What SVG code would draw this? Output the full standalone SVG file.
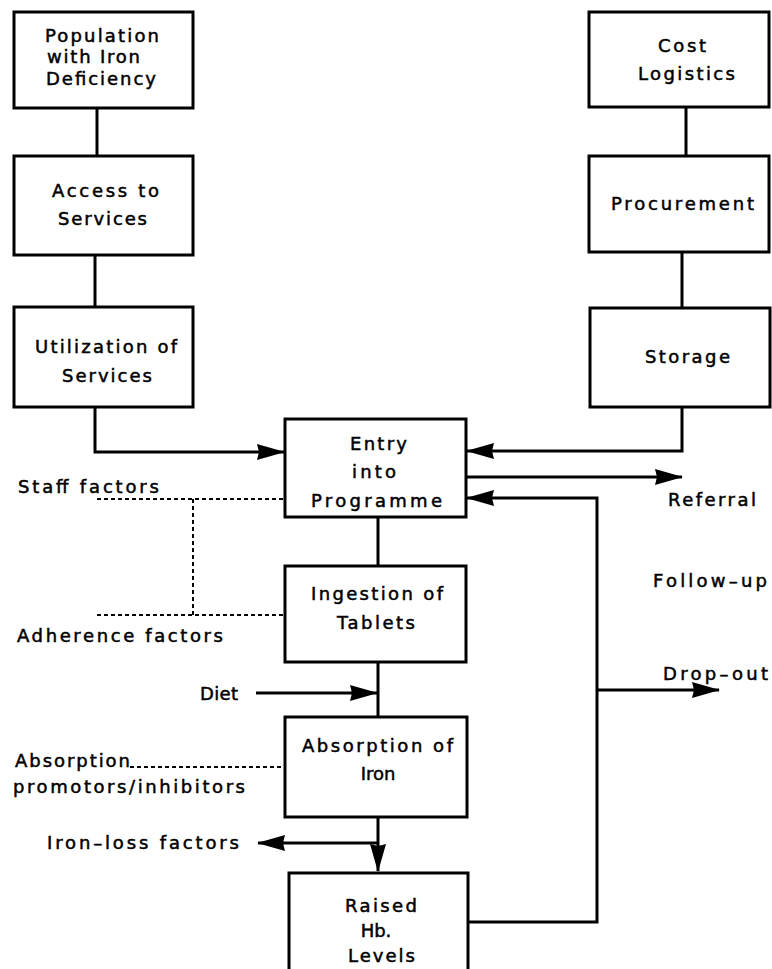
<svg xmlns="http://www.w3.org/2000/svg" width="772" height="969" viewBox="0 0 772 969">
<style>
  .box { fill: #ffffff; stroke: #000; stroke-width: 3; }
  .ln { fill: none; stroke: #000; stroke-width: 3; }
  .dot { fill: none; stroke: #000; stroke-width: 2; stroke-dasharray: 4 3; }
  text { font-family: "DejaVu Sans", "Liberation Sans", sans-serif; font-size: 18px; fill: #000; stroke: #000; stroke-width: 0.5; }
  .c { text-anchor: middle; }
</style>
<defs>
  <marker id="ah" markerUnits="userSpaceOnUse" viewBox="0 0 28 16" refX="27" refY="8" markerWidth="28" markerHeight="16" orient="auto">
    <path d="M0,0 L28,8 L0,16 L2,8 z" fill="#000"/>
  </marker>
</defs>
<rect width="772" height="969" fill="#fff"/>

<g id="connectors">
  <line class="ln" x1="97" y1="108" x2="97" y2="156"/>
  <line class="ln" x1="95" y1="255" x2="95" y2="307"/>
  <path class="ln" d="M95,407 V452 H284" marker-end="url(#ah)"/>
  <line class="ln" x1="686" y1="107" x2="686" y2="156"/>
  <line class="ln" x1="682" y1="252" x2="682" y2="308"/>
  <path class="ln" d="M682,407 V451 H467" marker-end="url(#ah)"/>
  <path class="ln" d="M466,477 H682" marker-end="url(#ah)"/>
  <path class="ln" d="M468,922 H597 V498 H467" marker-end="url(#ah)"/>
  <path class="ln" d="M597,690 H719" marker-end="url(#ah)"/>
  <line class="ln" x1="378" y1="517" x2="378" y2="566"/>
  <line class="ln" x1="378" y1="662" x2="378" y2="717"/>
  <path class="ln" d="M256,693 H377" marker-end="url(#ah)"/>
  <path class="ln" d="M378,817 V871" marker-end="url(#ah)"/>
  <path class="ln" d="M378,843 H258" marker-end="url(#ah)"/>
  <line class="dot" x1="97" y1="499" x2="285" y2="499"/>
  <line class="dot" x1="193" y1="499" x2="193" y2="615"/>
  <line class="dot" x1="97" y1="615" x2="285" y2="615"/>
  <line class="dot" x1="130" y1="767" x2="283" y2="767"/>
</g>

<g id="population">
  <rect class="box" x="14" y="12" width="179" height="96"/>
  <text x="45" y="42" textLength="114">Population</text>
  <text x="47" y="63" textLength="93">with Iron</text>
  <text x="46" y="85" textLength="110">Deficiency</text>
</g>
<g id="access">
  <rect class="box" x="14" y="156" width="179" height="99"/>
  <text x="52" y="197" textLength="107">Access to</text>
  <text x="58" y="225" textLength="89">Services</text>
</g>
<g id="utilization">
  <rect class="box" x="14" y="307" width="179" height="100"/>
  <text x="35" y="353" textLength="142">Utilization of</text>
  <text x="62" y="382" textLength="90">Services</text>
</g>
<g id="cost">
  <rect class="box" x="589" y="12" width="180" height="95"/>
  <text x="658" y="52" textLength="48">Cost</text>
  <text x="638" y="80" textLength="97">Logistics</text>
</g>
<g id="procurement">
  <rect class="box" x="589" y="156" width="180" height="96"/>
  <text x="611" y="210" textLength="143">Procurement</text>
</g>
<g id="storage">
  <rect class="box" x="590" y="308" width="180" height="99"/>
  <text x="645" y="363" textLength="85">Storage</text>
</g>
<g id="entry">
  <rect class="box" x="285" y="419" width="181" height="98"/>
  <text x="350" y="450" textLength="57">Entry</text>
  <text x="352" y="478" textLength="44">into</text>
  <text x="311" y="507" textLength="131">Programme</text>
</g>
<g id="ingestion">
  <rect class="box" x="285" y="566" width="181" height="96"/>
  <text x="311" y="600" textLength="132">Ingestion of</text>
  <text x="337" y="629" textLength="78">Tablets</text>
</g>
<g id="absorption">
  <rect class="box" x="285" y="717" width="182" height="100"/>
  <text x="302" y="752" textLength="151">Absorption of</text>
  <text class="c" x="378" y="780">Iron</text>
</g>
<g id="raised">
  <path class="box" d="M289,975 V873 H468 V975"/>
  <text x="345" y="912" textLength="72">Raised</text>
  <text class="c" x="376" y="937">Hb.</text>
  <text x="348" y="962" textLength="67">Levels</text>
</g>

<g id="labels">
  <text x="18" y="493" textLength="141">Staff factors</text>
  <text x="17" y="642" textLength="206">Adherence factors</text>
  <text x="200" y="700" textLength="38">Diet</text>
  <text x="15" y="767" textLength="115">Absorption</text>
  <text x="13" y="793" textLength="232">promotors/inhibitors</text>
  <text x="47" y="849" textLength="192">Iron–loss factors</text>
  <text x="668" y="506" textLength="88">Referral</text>
  <text x="653" y="587" textLength="114">Follow–up</text>
  <text x="663" y="680" textLength="105">Drop–out</text>
</g>
</svg>
